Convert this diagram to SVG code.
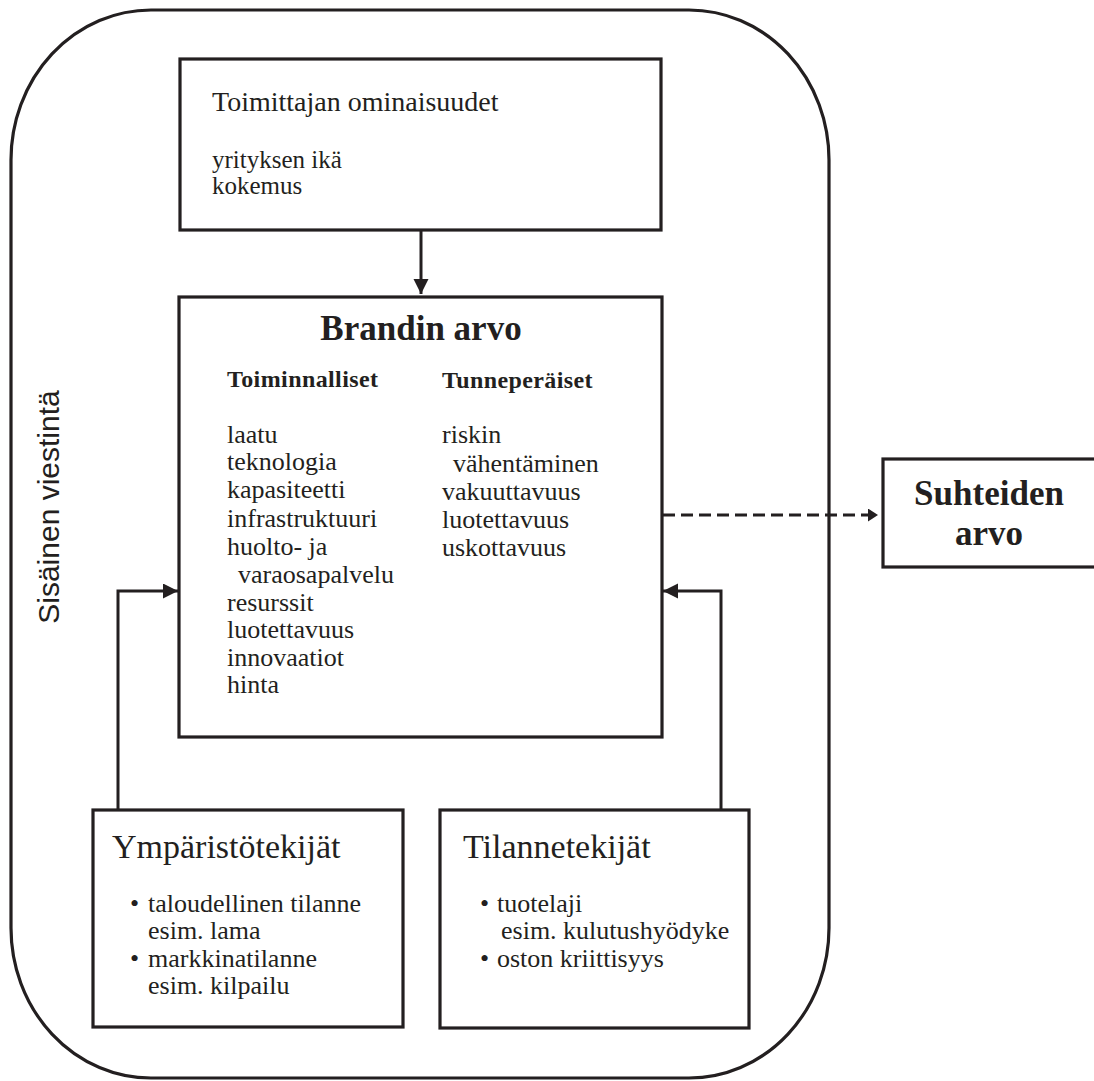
<svg xmlns="http://www.w3.org/2000/svg" width="1094" height="1081" viewBox="0 0 1094 1081">
<style>
.box{fill:#fff;stroke:#231f20;stroke-width:3.2}
.outer{fill:none;stroke:#231f20;stroke-width:3.2}
.con{fill:none;stroke:#231f20;stroke-width:3}
.dash{fill:none;stroke:#231f20;stroke-width:3;stroke-dasharray:12 6}
text{fill:#231f20;font-family:"Liberation Serif","Times New Roman",serif}
.title{font-size:34px}
.sub{font-size:28px}
.body{font-size:26px}
.bold{font-weight:bold}
.head{font-size:24px;font-weight:bold;letter-spacing:0.4px}
.side{font-family:"Liberation Sans",Arial,sans-serif;font-size:30px}
</style>
<defs>
<marker id="ah" markerUnits="userSpaceOnUse" markerWidth="16" markerHeight="16" refX="15" refY="7.5" orient="auto">
<path d="M0,0 L15,7.5 L0,15 z" fill="#231f20"/>
</marker>
<marker id="ahs" markerUnits="userSpaceOnUse" markerWidth="12" markerHeight="14" refX="10" refY="6.5" orient="auto">
<path d="M0,0 L10,6.5 L0,13 z" fill="#231f20"/>
</marker>
</defs>
<g id="outer-frame">
<rect class="outer" x="11" y="10" width="818" height="1068" rx="140" ry="150"/>
<text class="side" transform="translate(59,507) rotate(-90)" text-anchor="middle">Sisäinen viestintä</text>
</g>
<g id="connectors">
<line class="con" x1="421" y1="231" x2="421" y2="294" marker-end="url(#ah)"/>
<polyline class="con" points="118,810 118,591 178,591" marker-end="url(#ah)"/>
<polyline class="con" points="721,810 721,591 663,591" marker-end="url(#ah)"/>
<line class="dash" x1="663" y1="515" x2="878" y2="515" marker-end="url(#ahs)"/>
</g>
<g id="toimittajan">
<rect class="box" x="180" y="59" width="481" height="171"/>
<text class="sub" x="212" y="111">Toimittajan ominaisuudet</text>
<text class="body" x="212" y="168" style="font-size:25px">yrityksen ikä</text>
<text class="body" x="212" y="194" style="font-size:25px">kokemus</text>
</g>
<g id="brandin">
<rect class="box" x="179" y="297" width="483" height="440"/>
<text class="bold" x="421" y="340" text-anchor="middle" style="font-size:35px">Brandin arvo</text>
<text class="head" x="227" y="387">Toiminnalliset</text>
<text class="head" x="442" y="388">Tunneperäiset</text>
<text class="body" x="227" y="443">laatu</text>
<text class="body" x="227" y="470">teknologia</text>
<text class="body" x="227" y="498">kapasiteetti</text>
<text class="body" x="227" y="527">infrastruktuuri</text>
<text class="body" x="227" y="555">huolto- ja</text>
<text class="body" x="238" y="583">varaosapalvelu</text>
<text class="body" x="227" y="611">resurssit</text>
<text class="body" x="227" y="638">luotettavuus</text>
<text class="body" x="227" y="666">innovaatiot</text>
<text class="body" x="227" y="693">hinta</text>
<text class="body" x="442" y="443">riskin</text>
<text class="body" x="453" y="472">vähentäminen</text>
<text class="body" x="442" y="500">vakuuttavuus</text>
<text class="body" x="442" y="528">luotettavuus</text>
<text class="body" x="442" y="556">uskottavuus</text>
</g>
<g id="suhteiden">
<rect class="box" x="883" y="459" width="220" height="108"/>
<text class="bold" x="989" y="505" text-anchor="middle" style="font-size:35px">Suhteiden</text>
<text class="bold" x="989" y="545" text-anchor="middle" style="font-size:35px">arvo</text>
</g>
<g id="ymparisto">
<rect class="box" x="93" y="810" width="310" height="217"/>
<text class="title" x="112" y="858">Ympäristötekijät</text>
<text class="body" x="130" y="912">•</text>
<text class="body" x="148" y="912">taloudellinen tilanne</text>
<text class="body" x="148" y="939">esim. lama</text>
<text class="body" x="130" y="967">•</text>
<text class="body" x="148" y="967">markkinatilanne</text>
<text class="body" x="148" y="994">esim. kilpailu</text>
</g>
<g id="tilanne">
<rect class="box" x="440" y="810" width="309" height="218"/>
<text class="title" x="463" y="858">Tilannetekijät</text>
<text class="body" x="480" y="912">•</text>
<text class="body" x="497" y="912">tuotelaji</text>
<text class="body" x="501" y="939">esim. kulutushyödyke</text>
<text class="body" x="480" y="967">•</text>
<text class="body" x="497" y="967">oston kriittisyys</text>
</g>
</svg>
